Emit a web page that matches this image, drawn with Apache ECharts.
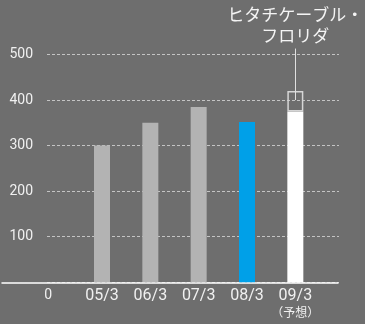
<!DOCTYPE html>
<html>
<head>
<meta charset="utf-8">
<script src="https://cdn.jsdelivr.net/npm/echarts@6/dist/echarts.min.js"></script>
<style>
  html, body { margin: 0; padding: 0; background: #6e6e6e; }
  #chart { width: 365px; height: 324px; }
</style>
</head>
<body>
<div id="chart"></div>
<script>
// data
var periods = ['05/3', '06/3', '07/3', '08/3', '09/3'];
var sales = [300, 350, 385, 352, 375];
var forecastHigh = 420;          // top of outlined box for 09/3
var yTicks = [0, 100, 200, 300, 400, 500];
var barColors = ['#b3b3b3', '#b3b3b3', '#b3b3b3', '#00a0e8', '#ffffff'];
var note = 'ヒタチケーブル・\nフロリダ';

var chart = echarts.init(document.getElementById('chart'));

var gridTop = 54.5, gridBottom = 41.7;
var yMax = yTicks[yTicks.length - 1];
var yStep = yTicks[1] - yTicks[0];
// bar grid uses a taller range (same scale) so the callout line fits
var barMax = 600;
var pxPerUnit = (324 - gridTop - gridBottom) / yMax;
var barTop = 324 - gridBottom - barMax * pxPerUnit;

// first slot carries the "0" of the value axis
var cats = ['0'].concat(periods);
var mainData = ['-'].concat(sales.map(function (v, i) {
  return { value: v, itemStyle: { color: barColors[i] } };
}));
var last = periods.length - 1;
var boxData = cats.map(function (c, i) {
  return i === last + 1 ? forecastHigh - sales[last] : '-';
});

var option = {
  backgroundColor: '#6e6e6e',
  animation: false,
  grid: [
    { left: 47, right: 26, top: gridTop, bottom: gridBottom },
    { left: 29.5, right: 45.5, top: barTop, bottom: gridBottom },
    { left: 2, right: 27, top: gridTop, bottom: gridBottom }
  ],
  xAxis: [
    { gridIndex: 0, type: 'category', data: cats, show: false },
    {
      gridIndex: 1, type: 'category', data: cats,
      axisLine: { show: false }, axisTick: { show: false },
      axisLabel: {
        interval: 0, margin: 6, color: '#f0f0f0', fontFamily: 'Roboto', fontSize: 16,
        formatter: function (v) {
          if (v === '0') return '{z|0}';
          if (v === periods[last]) return v + '\n{s|（予想）}';
          return v;
        },
        rich: {
          z: { fontSize: 14, fontFamily: 'Roboto', color: '#f0f0f0', padding: [0, 11, 5, 0] },
          s: { fontSize: 12, fontFamily: 'Noto Sans CJK JP', color: '#f0f0f0', lineHeight: 17 }
        }
      }
    },
    {
      gridIndex: 2, type: 'value', min: 0, max: 1,
      axisLine: { show: true, lineStyle: { color: '#ffffff', width: 1.5 } },
      axisTick: { show: false }, axisLabel: { show: false }, splitLine: { show: false }
    }
  ],
  yAxis: [
    {
      gridIndex: 0, type: 'value', min: 0, max: yMax, interval: yStep,
      axisLine: { show: false }, axisTick: { show: false },
      axisLabel: {
        margin: 14, color: '#f0f0f0', fontFamily: 'Roboto', fontSize: 14,
        formatter: function (v) { return v === 0 ? '' : v; }
      },
      splitLine: { lineStyle: { color: '#c4c4c4', type: [3, 2], width: 1 } }
    },
    { gridIndex: 1, type: 'value', min: 0, max: barMax, show: false },
    { gridIndex: 2, type: 'value', min: 0, max: 1, show: false }
  ],
  series: [
    {
      type: 'bar', xAxisIndex: 1, yAxisIndex: 1, stack: 'a',
      barWidth: 16, data: mainData
    },
    {
      type: 'bar', xAxisIndex: 1, yAxisIndex: 1, stack: 'a',
      barWidth: 16, data: boxData,
      itemStyle: { color: 'rgba(0,0,0,0)', borderColor: '#d6d6d6', borderWidth: 1.5 },
      markLine: {
        symbol: 'none', silent: true,
        lineStyle: { color: '#e0e0e0', width: 1, type: 'solid' },
        label: {
          show: true, position: 'end', distance: 3,
          formatter: note, color: '#f4f4f4', fontSize: 17, lineHeight: 21,
          fontFamily: 'Noto Sans CJK JP'
        },
        data: [[
          { coord: [periods[last], 400] },
          { coord: [periods[last], 513] }
        ]]
      }
    }
  ]
};

chart.setOption(option);
</script>
</body>
</html>
